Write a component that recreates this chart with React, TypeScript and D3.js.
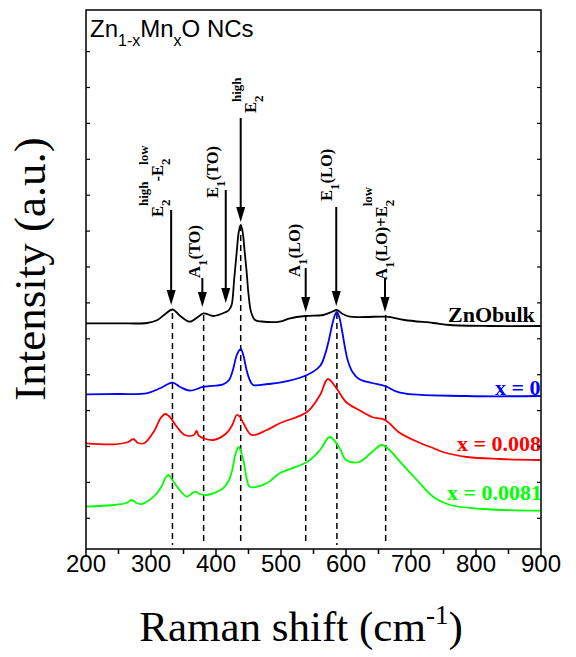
import React from "react";
import * as d3 from "d3";

// ---------- data (Raman shift in cm-1, intensity in a.u.) ----------
const znoBulk: [number, number][] = [
  [200, 225.7], [250, 225.7], [294, 226], [310, 229], [322, 235], [333, 239.5], [345, 233],
  [360, 227.3], [372, 232], [381, 235.7], [396, 233], [414, 236.7], [420, 239], [424, 244],
  [428, 270], [432, 298], [435, 317], [438, 324], [441, 317], [444, 298], [447, 278],
  [450, 255], [454, 237], [460, 229], [470, 227.5], [498, 227.3], [514, 230.7], [538, 233],
  [565, 234], [578, 237], [586, 239], [595, 235], [606, 232.3], [630, 232], [662, 232.3],
  [690, 229], [734, 226], [760, 224], [820, 223], [900, 223],
];
const x0: [number, number][] = [
  [200, 154.7], [250, 155], [293, 155.7], [315, 161], [333, 166.3], [345, 162], [360, 158.3],
  [381, 162.3], [411, 164.7], [420, 169], [426, 179], [432, 194], [438, 200], [442, 194],
  [447, 179], [452, 169], [457, 164], [480, 165], [498, 166.3], [540, 174], [560, 183],
  [568, 195], [574, 210], [579, 225], [583, 234], [586, 237], [590, 231], [594, 218],
  [598, 203], [603, 188], [610, 177], [620, 170], [640, 166], [660, 163], [683, 156.3],
  [786, 153], [900, 153],
];
const x008: [number, number][] = [
  [200, 105.7], [242, 104.7], [265, 107], [273, 110], [280, 106], [290, 106], [304, 117],
  [315, 131], [322, 135], [329, 132], [340, 122], [352, 114], [366, 114], [370, 118],
  [374, 113], [396, 109], [416, 115.7], [425, 124], [432, 134], [437, 132], [442, 126],
  [455, 114], [478, 119], [498, 125.7], [540, 137], [560, 154], [572, 170], [585, 161],
  [600, 147], [620, 139], [640, 132], [660, 129], [683, 116], [714, 106], [734, 101],
  [749, 97], [786, 92], [837, 90], [900, 89],
];
const x0081: [number, number][] = [
  [200, 42.3], [242, 44], [262, 46], [270, 49], [278, 46], [286, 45], [304, 52.3],
  [316, 62.3], [322, 71], [327, 74], [333, 69], [340, 62.3], [355, 52.3], [362, 55],
  [368, 57.3], [375, 55], [386, 54], [411, 60.7], [420, 69], [425, 79], [430, 95],
  [435, 102], [439, 96], [443, 86], [447, 71], [452, 62.3], [478, 65.7], [498, 75.7],
  [540, 87], [560, 99], [575, 112], [590, 101], [600, 89], [620, 87], [640, 97],
  [655, 104], [670, 97], [683, 87.3], [709, 69], [734, 52.3], [760, 44], [811, 40],
  [900, 38.3],
];

const seriesNames = ["ZnObulk", "x = 0", "x = 0.008", "x = 0.0081"];
const seriesColors = ["#000000", "#0000ff", "#ff0000", "#00ff00"];
const seriesData = [znoBulk, x0, x008, x0081];

// Mode annotations: position (cm-1), arrow top / tip (a.u.)
const modeShift = [331, 379, 415, 438, 538, 585, 660];
const arrowTop = [339, 271, 359, 431, 281, 342, 271];
const arrowTip = [244, 242, 246, 327, 237, 243, 237];
type Seg = [string, "n" | "sub" | "sup", boolean?];
const modeLabels: Seg[][] = [
  [["E", "n"], ["2", "sub"], ["high", "sup", true], ["-E", "n"], ["2", "sub"], ["low", "sup", true]],
  [["A", "n"], ["1", "sub"], ["(TO)", "n"]],
  [["E", "n"], ["1", "sub"], ["(TO)", "n"]],
  [["E", "n"], ["2", "sub"], ["high", "sup", true]],
  [["A", "n"], ["1", "sub"], ["(LO)", "n"]],
  [["E", "n"], ["1", "sub"], ["(LO)", "n"]],
  [["A", "n"], ["1", "sub"], ["(LO)+E", "n"], ["2", "sub"], ["low", "sup", true]],
];
// dashed guide lines: position (cm-1), start intensity (a.u.)
const guideShift = [333, 381, 438, 538, 586, 661];
const guideStart = [236, 234, 324, 234, 236, 234];

const xMajorTicks = d3.range(200, 901, 100);
const xMinorTicks = d3.range(250, 900, 100);
const yTicks = d3.range(14).map((k) => 30.7 + 35.9 * k);

// ---------- layout ----------
const W = 576, H = 657;
const L = 86, R = 541, T = 10, B = 549;
const labelPos = [
  [163, 217], [200, 278], [218, 198], [256, 113], [300, 277], [332, 201], [387, 280],
];
const seriesLabelPos = [
  [448, 322], [495, 395], [457, 451], [447, 500],
];

const SERIF = "'Liberation Serif', 'Times New Roman', serif";
const SANS = "'Liberation Sans', Arial, sans-serif";

function RotLabel({ bx, by, segs }: { bx: number; by: number; segs: Seg[] }) {
  let cur = 0;
  let prevW = 0;
  const spans = segs.map(([t, kind, stack], i) => {
    const target = kind === "sub" ? 7 : kind === "sup" ? -15 : 0;
    const dy = target - cur;
    cur = target;
    const fs = kind === "n" ? 16.5 : 13;
    const dx = stack ? -prevW : 0;
    prevW = t.length * fs * 0.5;
    return (
      <tspan key={i} dy={dy} dx={dx} fontSize={fs}>
        {t}
      </tspan>
    );
  });
  return (
    <text
      transform={`translate(${bx},${by}) rotate(-90)`}
      fontFamily={SERIF}
      fontWeight="bold"
      fill="#000"
    >
      {spans}
    </text>
  );
}

export default function App() {
  const x = d3.scaleLinear().domain([200, 900]).range([L, R]);
  const y = d3.scaleLinear().domain([0, 539]).range([B, T]);
  const line = d3
    .line<[number, number]>()
    .x((d) => x(d[0]))
    .y((d) => y(d[1]))
    .curve(d3.curveCatmullRom.alpha(0.5));

  return (
    <svg
      width={W}
      height={H}
      style={{ position: "absolute", left: 0, top: 0, background: "#fff" }}
    >
      <rect x={0} y={0} width={W} height={H} fill="#fff" />
      {/* guides */}
      {guideShift.map((g, i) => (
        <line
          key={"g" + i}
          x1={x(g)}
          x2={x(g)}
          y1={y(guideStart[i])}
          y2={B - 4}
          stroke="#000"
          strokeWidth={1.5}
          strokeDasharray="6,4"
        />
      ))}
      {/* spectra */}
      {seriesData.map((s, i) => (
        <path
          key={"s" + i}
          d={line(s) || ""}
          fill="none"
          stroke={seriesColors[i]}
          strokeWidth={1.8}
          strokeLinejoin="round"
        />
      ))}
      {/* arrows */}
      {modeShift.map((m, i) => {
        const px = x(m);
        const tip = y(arrowTip[i]);
        const top = y(arrowTop[i]);
        return (
          <g key={"a" + i}>
            <line x1={px} x2={px} y1={top} y2={tip - 10} stroke="#000" strokeWidth={2} />
            <path
              d={`M${px - 4.5},${tip - 15} L${px + 4.5},${tip - 15} L${px},${tip} Z`}
              fill="#000"
            />
          </g>
        );
      })}
      {modeLabels.map((segs, i) => (
        <RotLabel key={"l" + i} bx={labelPos[i][0]} by={labelPos[i][1]} segs={segs} />
      ))}
      {/* series labels */}
      {seriesNames.map((n, i) => (
        <text
          key={"n" + i}
          x={seriesLabelPos[i][0]}
          y={seriesLabelPos[i][1]}
          fontFamily={SERIF}
          fontWeight="bold"
          fontSize={22}
          fill={seriesColors[i]}
        >
          {n}
        </text>
      ))}
      {/* frame */}
      <rect x={L} y={T} width={R - L} height={B - T} fill="none" stroke="#000" strokeWidth={1.5} />
      {/* x ticks */}
      {xMajorTicks.map((t) => (
        <g key={"xt" + t}>
          <line x1={x(t)} x2={x(t)} y1={B} y2={B + 8} stroke="#000" strokeWidth={1.5} />
          <text
            x={x(t)}
            y={572}
            textAnchor="middle"
            fontFamily={SANS}
            fontSize={24}
            fill="#000"
          >
            {t}
          </text>
        </g>
      ))}
      {xMinorTicks.map((t) => (
        <line key={"xm" + t} x1={x(t)} x2={x(t)} y1={B} y2={B + 5} stroke="#000" strokeWidth={1.5} />
      ))}
      {/* y ticks (inward on both sides) */}
      {yTicks.map((t, i) => (
        <g key={"yt" + i}>
          <line x1={L} x2={L + 4} y1={y(t)} y2={y(t)} stroke="#000" strokeWidth={1.2} />
          <line x1={R - 4} x2={R} y1={y(t)} y2={y(t)} stroke="#000" strokeWidth={1.2} />
        </g>
      ))}
      {/* sample label */}
      <text x={90} y={37} fontFamily={SANS} fontSize={24} fill="#000">
        Zn
        <tspan fontSize={16} dy={9}>1-x</tspan>
        <tspan dy={-9}>Mn</tspan>
        <tspan fontSize={16} dy={9}>x</tspan>
        <tspan dy={-9}>O NCs</tspan>
      </text>
      {/* axis titles */}
      <text x={301} y={641} textAnchor="middle" fontFamily={SERIF} fontSize={43} fill="#000">
        Raman shift (cm
        <tspan fontSize={27} dy={-17}>-1</tspan>
        <tspan dy={17}>)</tspan>
      </text>
      <text
        transform="translate(45,269) rotate(-90)"
        textAnchor="middle"
        fontFamily={SERIF}
        fontSize={45}
        fill="#000"
      >
        Intensity (a.u.)
      </text>
    </svg>
  );
}
